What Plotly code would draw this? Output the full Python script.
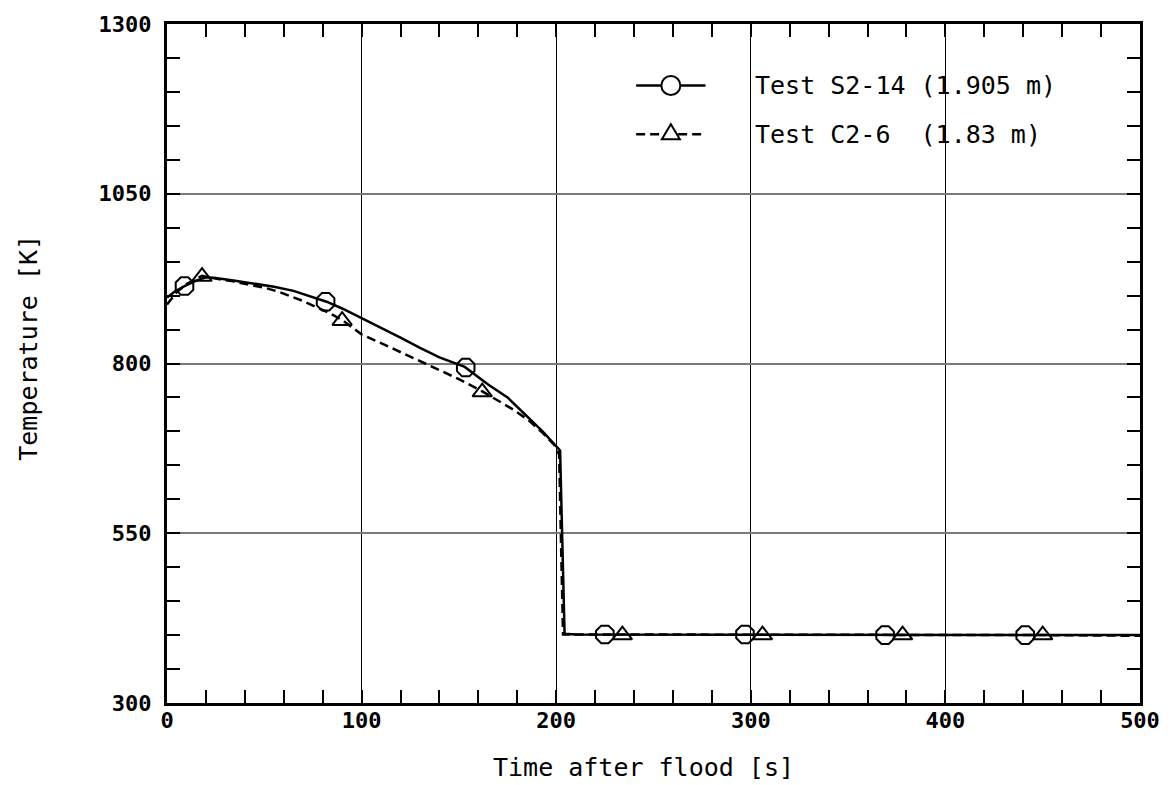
import plotly.graph_objects as go

# ---------------- data ----------------
t_s2 = [0, 4, 9, 15, 20, 25, 35, 45, 55, 65, 75, 82, 90, 100, 110, 120, 130, 140,
        153, 165, 175, 185, 193, 202, 204.3, 210, 250, 300, 350, 400, 450, 500]
T_s2 = [897, 906, 914, 922, 927, 926, 922, 918, 913, 907, 898, 891, 881, 867, 853, 838, 823, 809,
        795, 769, 750, 722, 700, 672, 402, 401, 401, 401, 401, 400, 400, 400]

t_c2 = [0, 5, 10, 18, 25, 34, 42, 51, 58, 64, 70, 76, 83, 90, 100, 110, 120, 130, 140,
        150, 162, 170, 178, 186, 193, 199, 201.5, 203.5, 210, 250, 300, 350, 400, 450, 500]
T_c2 = [887, 905, 917, 929, 925, 921, 916, 911, 905, 899, 892, 884, 875, 864, 843, 830, 817, 804, 791,
        777, 759, 746, 732, 716, 698, 680, 666, 401, 401, 401, 401, 401, 400, 400, 399]

# marker positions
t_s2_mk = [9, 81.5, 153.5, 225, 297, 369, 441]
T_s2_mk = [914, 891, 794, 401, 401, 400, 400]
t_c2_mk = [18, 90, 162, 234, 306, 378, 450]
T_c2_mk = [928, 863, 758, 400, 400, 400, 400]

x_ticks = [0, 100, 200, 300, 400, 500]
y_ticks = [300, 550, 800, 1050, 1300]

legend_names = ["Test S2-14 (1.905 m)", "Test C2-6\u00a0\u00a0(1.83 m)"]

# ---------------- layout geometry ----------------
W, H = 1172, 785
PX0, PX1, PY0, PY1 = 167, 1148, 19, 703  # plot area in pixels


def px(x):
    return (x - PX0) / (PX1 - PX0)


def py(y):
    return (PY1 - y) / (PY1 - PY0)


MONO = "DejaVu Sans Mono"
DASH = "9px,5px"

fig = go.Figure()

fig.add_trace(go.Scatter(x=t_s2, y=T_s2, mode="lines",
                         line=dict(color="black", width=2.5), showlegend=False,
                         hoverinfo="skip"))
fig.add_trace(go.Scatter(x=t_c2, y=T_c2, mode="lines",
                         line=dict(color="black", width=2.5, dash=DASH), showlegend=False,
                         hoverinfo="skip"))
fig.add_trace(go.Scatter(x=t_s2_mk, y=T_s2_mk, mode="markers",
                         marker=dict(symbol="octagon-open", size=19, color="black",
                                     line=dict(width=2, color="black")),
                         showlegend=False))
fig.add_trace(go.Scatter(x=t_c2_mk, y=T_c2_mk, mode="markers",
                         marker=dict(symbol="triangle-up-open", size=17, color="black",
                                     line=dict(width=2, color="black")),
                         showlegend=False))

# ---------------- manual legend ----------------
shapes = []
annotations = []
leg_y = [81, 130]
for i, (yy, name) in enumerate(zip(leg_y, legend_names)):
    shapes.append(dict(type="line", xref="paper", yref="paper",
                       x0=px(640), x1=px(710), y0=py(yy), y1=py(yy),
                       line=dict(color="black", width=2.5, dash="solid" if i == 0 else DASH),
                       layer="above"))
    if i == 0:
        shapes.append(dict(type="circle", xref="paper", yref="paper",
                           xsizemode="pixel", ysizemode="pixel",
                           xanchor=px(675), yanchor=py(yy),
                           x0=-9.5, x1=9.5, y0=-9.5, y1=9.5,
                           fillcolor="white", line=dict(color="black", width=2),
                           layer="above"))
    else:
        shapes.append(dict(type="path", xref="paper", yref="paper",
                           xsizemode="pixel", ysizemode="pixel",
                           xanchor=px(675), yanchor=py(yy),
                           path="M -9,-5 L 9,-5 L 0,10 Z",
                           fillcolor="white", line=dict(color="black", width=2),
                           layer="above"))
    annotations.append(dict(text=name, xref="paper", yref="paper",
                            x=px(758), y=py(yy), xanchor="left", yanchor="middle",
                            showarrow=False, font=dict(family=MONO, size=25, color="black")))

# axis titles
annotations.append(dict(text="Time after flood [s]", xref="paper", yref="paper",
                        x=px(647), y=py(768), xanchor="center", yanchor="middle",
                        showarrow=False, font=dict(family=MONO, size=25, color="black")))
annotations.append(dict(text="Temperature [K]", xref="paper", yref="paper",
                        x=px(27), y=py(345), xanchor="center", yanchor="middle",
                        textangle=-90,
                        showarrow=False, font=dict(family=MONO, size=25, color="black")))

tickfont = dict(family=MONO, size=22, color="black", weight="bold")

fig.update_layout(
    width=W, height=H,
    margin=dict(l=PX0, r=W - PX1, t=PY0, b=H - PY1),
    paper_bgcolor="white", plot_bgcolor="white",
    shapes=shapes, annotations=annotations,
    showlegend=False,
    xaxis=dict(range=[0, 500], tickvals=x_ticks, ticktext=[str(v) for v in x_ticks],
               showgrid=True, gridcolor="black", gridwidth=1,
               showline=True, linecolor="black", linewidth=3, mirror="ticks",
               ticks="inside", ticklen=13, tickwidth=1.5, tickcolor="black",
               minor=dict(dtick=20, tick0=0, ticks="inside", ticklen=13, tickwidth=1.5,
                          tickcolor="black", showgrid=False),
               tickfont=tickfont, ticklabelstandoff=-4, zeroline=False),
    yaxis=dict(range=[300, 1300], tickvals=y_ticks, ticktext=[str(v) for v in y_ticks],
               showgrid=True, gridcolor="#7a7a7a", gridwidth=2,
               showline=True, linecolor="black", linewidth=3, mirror="ticks",
               ticks="inside", ticklen=13, tickwidth=1.5, tickcolor="black",
               minor=dict(dtick=50, tick0=300, ticks="inside", ticklen=13, tickwidth=1.5,
                          tickcolor="black", showgrid=False),
               tickfont=tickfont, ticklabelstandoff=8, zeroline=False),
)

fig.write_html("out.html")
